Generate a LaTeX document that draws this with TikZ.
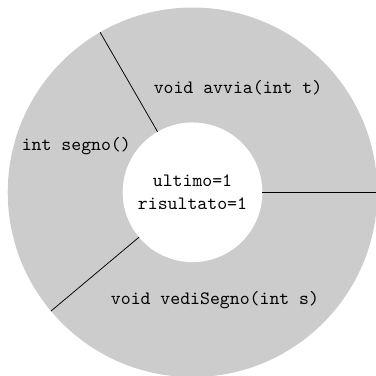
\documentclass[tikz,border=0pt]{standalone}
\usepackage{tikz}

\begin{document}
\begin{tikzpicture}[font=\ttfamily, label/.style={anchor=center, inner sep=0pt}]
\useasboundingbox (-3.584,-3.420) rectangle (3.416,3.580);

\fill[gray!40] (0,0) circle (3.44);
\fill[white] (0,0) circle (1.3);

\foreach \a in {0,120,220}
  \draw[thin] (\a:1.3) -- (\a:3.44);

\node[label, align=center] (stato) at (0,0) {ultimo=1\\risultato=1};
\node[label] (avvia) at (0.847,1.951) {void avvia(int t)};
\node[label] (segno) at (-2.163,0.868) {int segno()};
\node[label] (vedi) at (0.419,-2.005) {void vediSegno(int s)};
\end{tikzpicture}
\end{document}
